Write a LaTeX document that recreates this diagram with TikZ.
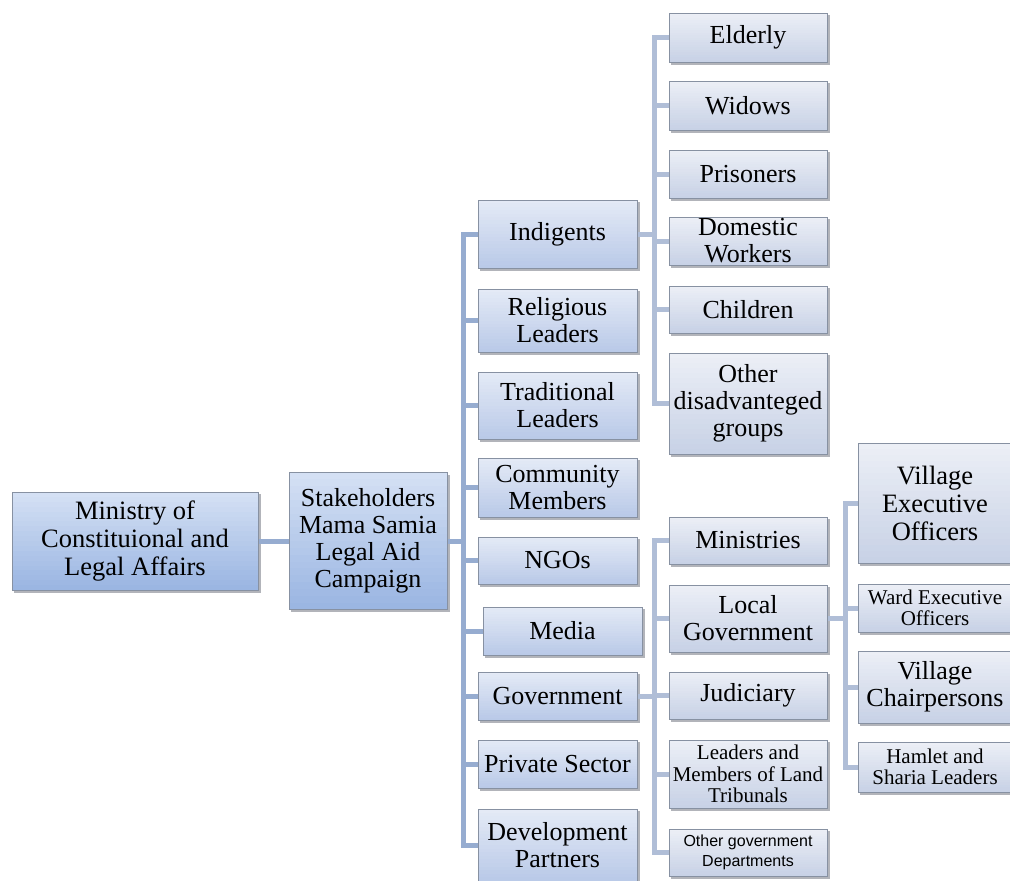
\documentclass[tikz,border=0pt]{standalone}
\usepackage{fontspec}
\newfontfamily\serfa{Liberation Serif}
\newfontfamily\sansf{Liberation Sans}
\usetikzlibrary{calc,backgrounds}
\definecolor{conn}{RGB}{176,190,215}
\definecolor{connmain}{RGB}{150,172,208}
\definecolor{bordc}{RGB}{135,145,162}
\definecolor{shad}{RGB}{178,180,186}
\definecolor{leaftop}{RGB}{236,239,246}
\definecolor{leafbot}{RGB}{200,210,230}
\definecolor{midtop}{RGB}{228,234,246}
\definecolor{midbot}{RGB}{186,202,232}
\definecolor{roottop}{RGB}{212,224,244}
\definecolor{rootbot}{RGB}{155,182,226}
\tikzset{
  gradfill/.style 2 args={path picture={
    \foreach \i in {0,...,19}{
      \pgfmathtruncatemacro\pct{100-\i*100/19}
      \fill[#1!\pct!#2]
        ($(path picture bounding box.north west)!{\i/20}!(path picture bounding box.south west)$)
        rectangle
        ($(path picture bounding box.north east)!{(\i+1.3)/20}!(path picture bounding box.south east)$);
    }}},
  boxbase/.style={draw=bordc, line width=0.8pt, inner sep=1pt, align=center},
  leafbox/.style={boxbase, gradfill={leaftop}{leafbot}, minimum width=158pt},
  midbox/.style={boxbase, gradfill={midtop}{midbot}, minimum width=159pt},
  rootbox/.style={boxbase, gradfill={roottop}{rootbot}},
  shadowbox/.style={fill=shad, draw=none},
  lnk/.style={draw=conn, line width=5pt},
  mainlnk/.style={draw=connmain, line width=5pt},
  bigtxt/.style={font=\serfa\fontsize{26.5}{28}\selectfont},
  medtxt/.style={font=\serfa\fontsize{26}{27}\selectfont},
  smltxt/.style={font=\serfa\fontsize{21}{21.5}\selectfont},
  tinytxt/.style={font=\sansf\fontsize{16}{20}\selectfont},
}
\begin{document}
\begin{tikzpicture}[x=1pt,y=-1pt]
\useasboundingbox (0,0) rectangle (1010,881);
% root and stakeholders
\node[rootbox, bigtxt, minimum width=246pt, minimum height=98pt] (min) at (135,541) {Ministry of\\Constituional and\\Legal Affairs};
\node[rootbox, medtxt, minimum width=158pt, minimum height=137pt] (stk) at (368,541) {Stakeholders\\Mama Samia\\Legal Aid\\Campaign};
% level 2
\node[midbox, medtxt, minimum height=68pt] (ind) at (557.5,234) {Indigents};
\node[midbox, medtxt, minimum height=63pt] (rel) at (557.5,320.5) {Religious\\Leaders};
\node[midbox, medtxt, minimum height=67pt] (tra) at (557.5,405.5) {Traditional\\Leaders};
\node[midbox, medtxt, minimum height=59pt] (com) at (557.5,487.5) {Community\\Members};
\node[midbox, medtxt, minimum height=47pt] (ngo) at (557.5,560.5) {NGOs};
\node[midbox, medtxt, minimum height=48pt] (mda) at (562.5,631) {Media};
\node[midbox, medtxt, minimum height=48pt] (gov) at (557.5,696) {Government};
\node[midbox, medtxt, minimum height=48pt] (pri) at (557.5,764) {Private Sector};
\node[midbox, medtxt, minimum height=72pt] (dev) at (557.5,845) {Development\\Partners};
% indigents children
\node[leafbox, medtxt, minimum height=49pt] (eld) at (748,37.5) {Elderly};
\node[leafbox, medtxt, minimum height=49pt] (wid) at (748,105.5) {Widows};
\node[leafbox, medtxt, minimum height=48pt] (pris) at (748,174) {Prisoners};
\node[leafbox, medtxt, minimum height=48pt] (dom) at (748,241) {Domestic\\Workers};
\node[leafbox, medtxt, minimum height=47pt] (chi) at (748,309.5) {Children};
\node[leafbox, medtxt, minimum height=101pt] (oth) at (748,403.5) {Other\\disadvanteged\\groups};
% government children
\node[leafbox, medtxt, minimum height=47pt] (mins) at (748,540.5) {Ministries};
\node[leafbox, medtxt, minimum height=67pt] (loc) at (748,618.5) {Local\\Government};
\node[leafbox, medtxt, minimum height=47pt] (jud) at (748,695.5) {Judiciary};
\node[leafbox, smltxt, minimum height=68pt] (land) at (748,774) {Leaders and\\Members of Land\\Tribunals};
\node[leafbox, tinytxt, minimum height=47pt] (ogd) at (748,852.5) {Other government\\Departments};
% local government children
\node[leafbox, bigtxt, minimum width=154pt, minimum height=120pt] (veo) at (935,503) {Village\\Executive\\Officers};
\node[leafbox, smltxt, minimum width=154pt, minimum height=48pt] (weo) at (935,608) {Ward Executive\\Officers};
\node[leafbox, medtxt, minimum width=154pt, minimum height=72pt] (vch) at (935,687) {Village\\Chairpersons};
\node[leafbox, smltxt, minimum width=154pt, minimum height=50pt] (ham) at (935,767) {Hamlet and\\Sharia Leaders};
% shadows and connectors
\begin{scope}[on background layer]
\foreach \n in {min,stk,ind,rel,tra,com,ngo,mda,gov,pri,dev,eld,wid,pris,dom,chi,oth,mins,loc,jud,land,ogd,veo,weo,vch,ham}{
  \fill[shad] ([shift={(2.5pt,-2.5pt)}]\n.north west) rectangle ([shift={(2.5pt,-2.5pt)}]\n.south east);
}
\draw[mainlnk] (min.east) -- (stk.west);
\coordinate (trunk) at ([xshift=16pt]stk.east);
\foreach \n in {ind,rel,tra,com,ngo,mda,gov,pri,dev}{
  \draw[mainlnk] (stk.east) -- (trunk) |- (\n.west);
}
\foreach \n in {eld,wid,pris,dom,chi,oth}{
  \draw[lnk] (ind.east) -- ([xshift=17pt]ind.east) |- (\n.west);
}
\foreach \n in {mins,loc,jud,land,ogd}{
  \draw[lnk] (gov.east) -- ([xshift=17pt]gov.east) |- (\n.west);
}
\foreach \n in {veo,weo,vch,ham}{
  \draw[lnk] (loc.east) -- ([xshift=18pt]loc.east) |- (\n.west);
}
\end{scope}
\end{tikzpicture}
\end{document}
